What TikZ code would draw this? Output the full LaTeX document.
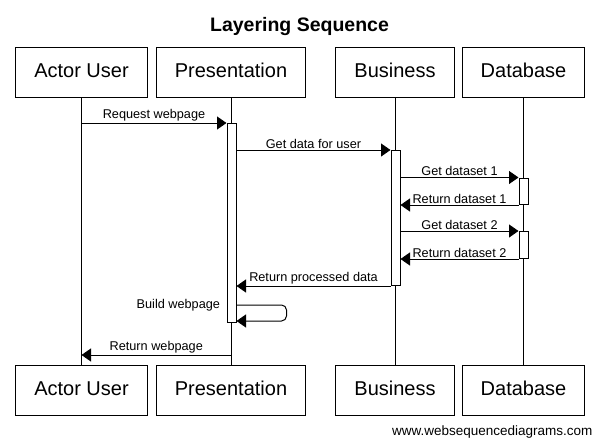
\documentclass[tikz,border=0pt]{standalone}
\usepackage{fontspec}
\setmainfont{Liberation Sans}
\usetikzlibrary{arrows.meta,positioning}

\begin{document}
\begin{tikzpicture}[x=1pt,y=-1pt,line width=1pt,
  box/.style={draw,fill=white,minimum height=50pt,inner xsep=18.5pt,text height=14.5pt,text depth=3pt,font=\fontsize{20}{24}\selectfont},
  bar/.style={draw,fill=white,minimum width=9pt,inner sep=0pt,anchor=north},
  msg/.style={-{Triangle[length=9.5pt,width=13pt]}},
  lbl/.style={font=\fontsize{12.7}{15}\selectfont,inner sep=1pt}]
\useasboundingbox (0,0) rectangle (598,439);
\node[font=\bfseries\fontsize{19.5}{23}\selectfont,anchor=base] (title) at (299.5,31.5) {Layering Sequence};

\node[box] (UserT) at (81.5,72) {Actor User};
\node[box] (PresT) at (231,72) {Presentation};
\node[box] (BusT) at (395,72) {Business};
\node[box] (DbT) at (523.5,72) {Database};
\node[box] (UserB) at (81.5,390) {Actor User};
\node[box] (PresB) at (231,390) {Presentation};
\node[box] (BusB) at (395,390) {Business};
\node[box] (DbB) at (523.5,390) {Database};
\draw (UserT.south)--(UserB.north);
\draw (PresT.south)--(PresB.north);
\draw (BusT.south)--(BusB.north);
\draw (DbT.south)--(DbB.north);

\node[bar,minimum height=199pt] (PresA) at (231.5,123) {};
\node[bar,minimum height=135pt] (BusA) at (395.5,150) {};
\node[bar,minimum height=26.5pt] (DbA1) at (523.5,177.5) {};
\node[bar,minimum height=27pt] (DbA2) at (523.5,231) {};

\draw[msg] (UserT |- PresA.north)--node[lbl,above] {Request webpage} (PresA.north west);
\draw[msg] (PresA.east |- BusA.north)--node[lbl,above] {Get data for user} (BusA.north west);
\draw[msg] (BusA.east |- DbA1.north)--node[lbl,above] {Get dataset 1} (DbA1.north west);
\draw[msg] (DbA1.south west)--node[lbl,above] {Return dataset 1} (BusA.east |- DbA1.south);
\draw[msg] (BusA.east |- DbA2.north)--node[lbl,above] {Get dataset 2} (DbA2.north west);
\draw[msg] (DbA2.south west)--node[lbl,above] {Return dataset 2} (BusA.east |- DbA2.south);
\draw[msg] (BusA.south west)--node[lbl,above] {Return processed data} (PresA.east |- BusA.south);

\coordinate (BuildOut) at ([yshift=18pt]PresA.south east);
\coordinate (BuildIn) at ([yshift=2pt]PresA.south east);
\draw[msg,rounded corners=5pt] (BuildOut)--++(50,0)--++(0,16)--(BuildIn);
\node[lbl,anchor=east,inner sep=0pt] (BuildLbl) at ([xshift=-6pt]PresA.west |- BuildOut) {Build webpage};

\coordinate (RetWeb) at (231,355);
\draw[msg] (RetWeb)--node[lbl,above] {Return webpage} (UserT |- RetWeb);

\node[font=\fontsize{13.5}{16}\selectfont,anchor=base east,inner sep=0pt] (url) at (593,435) {www.websequencediagrams.com};
\end{tikzpicture}
\end{document}
